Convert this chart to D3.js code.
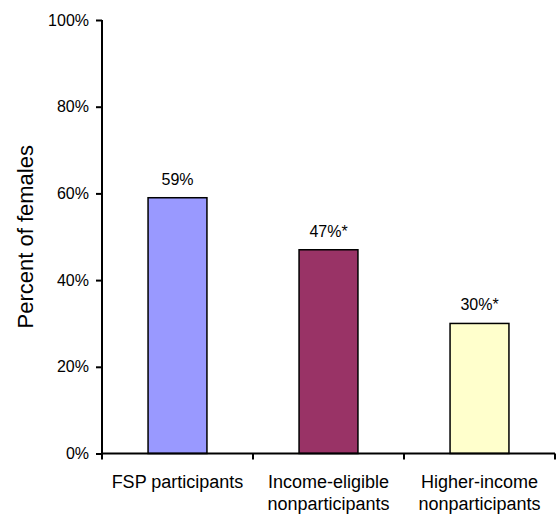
<!DOCTYPE html>
<html>
<head>
<meta charset="utf-8">
<script src="https://cdn.jsdelivr.net/npm/d3@7"></script>
<style>
  body { margin: 0; background: #fff; }
  svg text { font-family: "Liberation Sans", Arial, sans-serif; fill: #000; }
</style>
</head>
<body>
<div id="chart"></div>
<script>
// data
const categories = ["FSP participants", "Income-eligible nonparticipants", "Higher-income nonparticipants"];
const labelLines = [["FSP participants"], ["Income-eligible", "nonparticipants"], ["Higher-income", "nonparticipants"]];
const values = [59, 47, 30];
const valueLabels = ["59%", "47%*", "30%*"];
const barColors = ["#9999FF", "#993366", "#FFFFCC"];
const yTicks = [0, 20, 40, 60, 80, 100];

const W = 560, H = 515;
const margin = {top: 20, right: 5, bottom: 61.5, left: 102};

const svg = d3.select("#chart")
  .append("svg")
  .attr("width", W)
  .attr("height", H);

const x = d3.scaleBand()
  .domain(categories)
  .range([margin.left, W - margin.right])
  .paddingInner(0.61)
  .paddingOuter(0.305);

const y = d3.scaleLinear()
  .domain([0, 100])
  .range([H - margin.bottom, margin.top]);

// bars
svg.selectAll("rect.bar")
  .data(categories)
  .enter()
  .append("rect")
  .attr("class", "bar")
  .attr("x", d => x(d))
  .attr("y", (d, i) => y(values[i]))
  .attr("width", x.bandwidth())
  .attr("height", (d, i) => y(0) - y(values[i]))
  .attr("fill", (d, i) => barColors[i])
  .attr("stroke", "#000")
  .attr("stroke-width", 1.5);

// value labels
svg.selectAll("text.val")
  .data(categories)
  .enter()
  .append("text")
  .attr("class", "val")
  .attr("x", d => x(d) + x.bandwidth() / 2)
  .attr("y", (d, i) => y(values[i]) - 13)
  .attr("text-anchor", "middle")
  .style("font-size", "16px")
  .text((d, i) => valueLabels[i]);

// y axis
const yAxis = svg.append("g")
  .attr("transform", "translate(" + margin.left + ",0)")
  .call(d3.axisLeft(y).tickValues(yTicks).tickFormat(d => d + "%").tickSize(6).tickPadding(7));
yAxis.selectAll("text").style("font-size", "16px");
yAxis.select(".domain").attr("d", "M0," + y(100) + "V" + y(0));

// x axis with ticks at band boundaries
const step = x.step();
const bounds = [0, 1, 2, 3].map(i => margin.left + i * step);
const xAxis = svg.append("g");
xAxis.append("line")
  .attr("x1", margin.left).attr("x2", W - margin.right)
  .attr("y1", y(0)).attr("y2", y(0));
xAxis.selectAll("line.tick")
  .data(bounds)
  .enter()
  .append("line")
  .attr("class", "tick")
  .attr("x1", d => d).attr("x2", d => d)
  .attr("y1", y(0)).attr("y2", y(0) + 6);
xAxis.selectAll("line").attr("stroke", "#000").attr("stroke-width", 2);
svg.selectAll(".domain, .tick line").attr("stroke", "#000").attr("stroke-width", 2);

// category labels
const cat = svg.selectAll("text.cat")
  .data(categories)
  .enter()
  .append("text")
  .attr("class", "cat")
  .attr("text-anchor", "middle")
  .style("font-size", "18px");
cat.each(function(d, i) {
  const t = d3.select(this);
  labelLines[i].forEach((line, j) => {
    t.append("tspan")
      .attr("x", x(d) + x.bandwidth() / 2)
      .attr("y", y(0) + 34 + j * 22)
      .text(line);
  });
});

// y title
svg.append("text")
  .attr("transform", "translate(33," + ((y(0) + y(100)) / 2) + ") rotate(-90)")
  .attr("text-anchor", "middle")
  .style("font-size", "22px")
  .text("Percent of females");
</script>
</body>
</html>
